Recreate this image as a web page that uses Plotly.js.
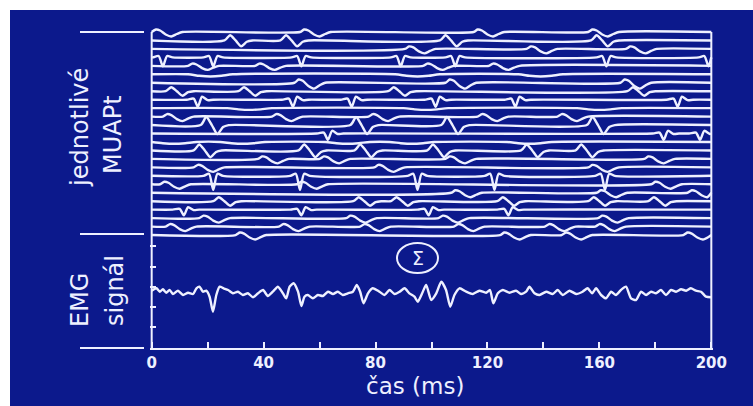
<!DOCTYPE html>
<html><head><meta charset="utf-8">
<script src="https://cdn.plot.ly/plotly-3.0.1.min.js"></script>
<style>
html,body{margin:0;padding:0;background:#ffffff;width:753px;height:406px;overflow:hidden}
#chart{position:absolute;left:10px;top:10px;width:743px;height:396px}
</style>
</head><body><div id="chart"></div>
<script>
// ---- axis ticks ----
const xTickVals = [0, 20, 40, 60, 80, 100, 120, 140, 160, 180, 200];
const xTickText = ['0', '', '40', '', '80', '', '120', '', '160', '', '200'];
const yTickVals = [21, 41, 61, 81, 102];

// ---- MUAP waveform shapes (time offset in ms, amplitude) ----
const dipT   = [-4, -2.5, -1, 1, 3, 5, 7];
const dipV   = [0, 2.5, 1.5, -2.5, -4.5, -2, 0];
const biT    = [-4, -2, 0, 2, 4, 6];
const biV    = [0, 4, 0, -4.5, -1, 0];
const spikeT = [-3.5, -1.5, 0, 1.5, 3.5];
const spikeV = [0, 1.5, -10, 1.5, 0];
const flatT  = [-8, -4, 0, 4, 8];
const flatV  = [0, -1.5, -2.2, -1.5, 0];
const notchT = [-4, -1.5, 0, 1.5, 3.5, 5.5];
const notchV = [0, 1, -7, 3, -0.5, 0];

// ---- individual MUAP trains (top to bottom) ----
const unitShape = ['dip','bi','dip','spike','dip','flat','dip','bi','notch','flat',
                   'dip','bi','notch','flat','bi','dip','dip','spike','dip','dip',
                   'bi','notch','dip','dip','dip'];
const unitAmp = [1.0, 1.3, 1.0, 0.9, 0.9, 1.0, 1.3, 1.0, 1.0, 0.8,
                 1.0, 2.0, 0.9, 0.8, 1.5, 1.0, 1.0, 1.4, 1.0, 1.0,
                 1.0, 0.8, 1.0, 1.0, 1.0];
const firingTimes = [
  [4, 57, 119, 160],
  [30, 50, 107, 161],
  [94.5, 138, 173.5],
  [4, 22, 53.5, 89, 108.5, 162.5, 199],
  [17, 41, 101, 124.5],
  [21, 95, 139],
  [55, 109, 171.5],
  [9, 35, 88.5, 174],
  [16.5, 50.5, 71.5, 101.5, 130, 188],
  [35, 98, 160],
  [8, 47, 81.5, 120.5, 149],
  [21.5, 75, 107.5, 159.5],
  [63, 183, 196],
  [8, 32.5, 70, 93, 135],
  [19, 56.5, 76.5, 102.5, 136, 155.5],
  [42, 64, 109, 180],
  [19, 83.5, 160],
  [22, 53, 95, 122.5, 162],
  [7, 56, 182.5],
  [111, 163, 195.5],
  [26, 76, 89.5, 127.5, 160, 181.5],
  [11.5, 53.5, 99, 127.5],
  [21, 73.5, 106.5, 163.5],
  [9, 49.5, 78.5, 112, 144.5, 162.5],
  [34, 128.5, 150.5, 194]
];

// ---- summed EMG signal ----
const emgTime = [
  0, 1.7, 2.9, 4.0, 5.2, 6.4, 7.6, 9.4, 11.2, 13.0,
  14.8, 16.0, 17.1, 18.3, 19.5, 20.7, 21.9, 23.1, 24.3, 25.7,
  27.3, 29.0, 30.8, 32.6, 34.4, 36.2, 38.0, 39.8, 41.5, 43.3,
  45.1, 46.9, 48.1, 49.3, 50.7, 52.3, 53.5, 54.6, 55.8, 57.6,
  59.4, 61.2, 63.0, 64.8, 66.5, 68.3, 70.1, 71.9, 73.3, 74.5,
  75.7, 77.3, 79.0, 81.4, 83.2, 85.0, 86.8, 88.6, 90.4, 92.1,
  93.9, 95.1, 96.9, 98.1, 99.9, 101.7, 103.5, 105.2, 106.7, 108.2,
  110.0, 112.4, 114.8, 117.1, 119.5, 120.9, 122.1, 123.7, 125.5, 127.9,
  130.2, 132.0, 133.8, 135.0, 136.8, 138.6, 141.0, 143.3, 145.1, 146.9,
  149.3, 151.7, 154.0, 155.8, 157.4, 158.8, 160.6, 162.4, 164.2, 165.9,
  167.7, 169.5, 171.3, 173.1, 174.9, 176.7, 178.5, 180.2, 182.0, 183.8,
  185.6, 187.4, 189.2, 191.0, 192.7, 194.5, 196.3, 198.1, 200
];
const emgValue = [
  1.3, 3.7, 0.3, 2.7, -0.7, 2, -2, 1.3, -3, -0.7,
  -2, 3.7, 5.3, 0.3, 1.3, -4.7, -19.7, -3, 5.3, 3.7,
  2, -1.3, 0.3, -3, -1.3, -5.3, -1.3, 2, -4, 0.3,
  5.3, -1.3, -6.3, 5.3, 8.7, 0.3, -14, -4.7, -3, -6.3,
  -3, -4, 0.3, -2, 0.3, -3, -1.3, 0.3, 7, 0.3,
  -11.3, -1.3, 3.7, 0.3, -3, 2, -2, 0.3, 3.7, -1.3,
  -4.7, -9.7, 0.3, 7, -8, -1.3, 10.3, 2, -14.7, -3,
  3.7, 0.3, -2, 1.3, -0.7, 2, -11.3, -1.3, 2, -0.7,
  1.3, -2, 0.3, 5.3, -1.3, -3, 0.3, -2, 2, -3,
  1.3, -2, 0.3, 3.7, -1.3, 3.7, -3, -6.3, 0.3, -3,
  2, 5.3, -6.3, -8, 0.3, -3, 0.3, -1.3, 2, -3,
  2, 0.3, 2.7, 1.3, 3.7, 1.3, 0.3, -4.7, -5.3
];

// ---- styling / layout constants ----
const BG = '#0c198c';
const INK = '#eef0ff';
const TOP_BASE = 316, ROW_STEP = 8.46, EMG_BASE = 56;
const ML = 140, MR = 40, MT = 12, MB = 58, PW = 563, PH = 326;
const px2x = px => (px - 10 - ML) / PW;        // page px -> paper x
const py2y = py => (348 - py) / PH;             // page py -> paper y

const shapes = {dip: [dipT, dipV], bi: [biT, biV], spike: [spikeT, spikeV], flat: [flatT, flatV], notch: [notchT, notchV]};

const traces = [];
firingTimes.forEach((times, i) => {
  const base = TOP_BASE - ROW_STEP * i;
  const [T, V] = shapes[unitShape[i]];
  const xs = [0], ys = [base];
  times.slice().sort((a, b) => a - b).forEach(f => {
    T.forEach((dt, k) => {
      const t = f + dt;
      if (t > 0 && t < 200) { xs.push(t); ys.push(base + V[k] * unitAmp[i]); }
    });
  });
  xs.push(200); ys.push(base);
  traces.push({x: xs, y: ys, type: 'scatter', mode: 'lines', hoverinfo: 'skip',
               line: {color: INK, width: 2.4, shape: 'spline', smoothing: 0.7}});
});
traces.push({x: emgTime, y: emgValue.map(v => EMG_BASE + v), type: 'scatter', mode: 'lines', hoverinfo: 'skip',
             line: {color: INK, width: 2.4, shape: 'spline', smoothing: 0.6}});

const font = 'DejaVu Sans, Verdana, sans-serif';
const layout = {
  width: 743, height: 396,
  margin: {l: ML, r: MR, t: MT, b: MB},
  paper_bgcolor: BG, plot_bgcolor: BG,
  showlegend: false,
  xaxis: {range: [-0.6, 200.6], showgrid: false, zeroline: false, showline: true, linecolor: INK, linewidth: 2,
          ticks: 'inside', ticklen: 6, tickwidth: 2, tickcolor: INK,
          tickmode: 'array', tickvals: xTickVals, ticktext: xTickText,
          tickfont: {family: font, size: 15, color: INK, weight: 'bold'}, fixedrange: true},
  yaxis: {range: [0, 326], showgrid: false, zeroline: false, showline: false,
          ticks: 'inside', ticklen: 6, tickwidth: 2, tickcolor: INK,
          tickmode: 'array', tickvals: yTickVals, showticklabels: false, fixedrange: true},
  shapes: [
    {type: 'line', xref: 'x', yref: 'y', x0: 0, x1: 0, y0: 0, y1: TOP_BASE, line: {color: INK, width: 2}},
    {type: 'line', xref: 'x', yref: 'y', x0: 200, x1: 200, y0: 0, y1: TOP_BASE, line: {color: INK, width: 2}},
    {type: 'line', xref: 'paper', yref: 'paper', x0: px2x(80), x1: px2x(144), y0: py2y(32), y1: py2y(32), line: {color: INK, width: 2}},
    {type: 'line', xref: 'paper', yref: 'paper', x0: px2x(80), x1: px2x(144), y0: py2y(234), y1: py2y(234), line: {color: INK, width: 2}},
    {type: 'line', xref: 'paper', yref: 'paper', x0: px2x(80), x1: px2x(144), y0: py2y(348), y1: py2y(348), line: {color: INK, width: 2}},
    {type: 'circle', xref: 'paper', yref: 'paper', x0: px2x(397), x1: px2x(438), y0: py2y(243), y1: py2y(273), line: {color: INK, width: 2}}
  ],
  annotations: [
    {text: 'jednotlivé', xref: 'paper', yref: 'paper', x: px2x(80), y: py2y(128), textangle: -90, showarrow: false, xanchor: 'center', yanchor: 'middle', font: {family: font, size: 24, color: INK}},
    {text: 'MUAPt', xref: 'paper', yref: 'paper', x: px2x(113), y: py2y(135), textangle: -90, showarrow: false, xanchor: 'center', yanchor: 'middle', font: {family: font, size: 24, color: INK}},
    {text: 'EMG', xref: 'paper', yref: 'paper', x: px2x(80), y: py2y(300), textangle: -90, showarrow: false, xanchor: 'center', yanchor: 'middle', font: {family: font, size: 24, color: INK}},
    {text: 'signál', xref: 'paper', yref: 'paper', x: px2x(115), y: py2y(291), textangle: -90, showarrow: false, xanchor: 'center', yanchor: 'middle', font: {family: font, size: 24, color: INK}},
    {text: 'čas (ms)', xref: 'paper', yref: 'paper', x: px2x(415), y: py2y(386), showarrow: false, xanchor: 'center', yanchor: 'middle', font: {family: font, size: 23, color: INK}},
    {text: 'Σ', xref: 'paper', yref: 'paper', x: px2x(417.5), y: py2y(258), showarrow: false, xanchor: 'center', yanchor: 'middle', font: {family: font, size: 19, color: INK}}
  ]
};

Plotly.newPlot('chart', traces, layout, {displayModeBar: false, staticPlot: true});
</script>
</body></html>
